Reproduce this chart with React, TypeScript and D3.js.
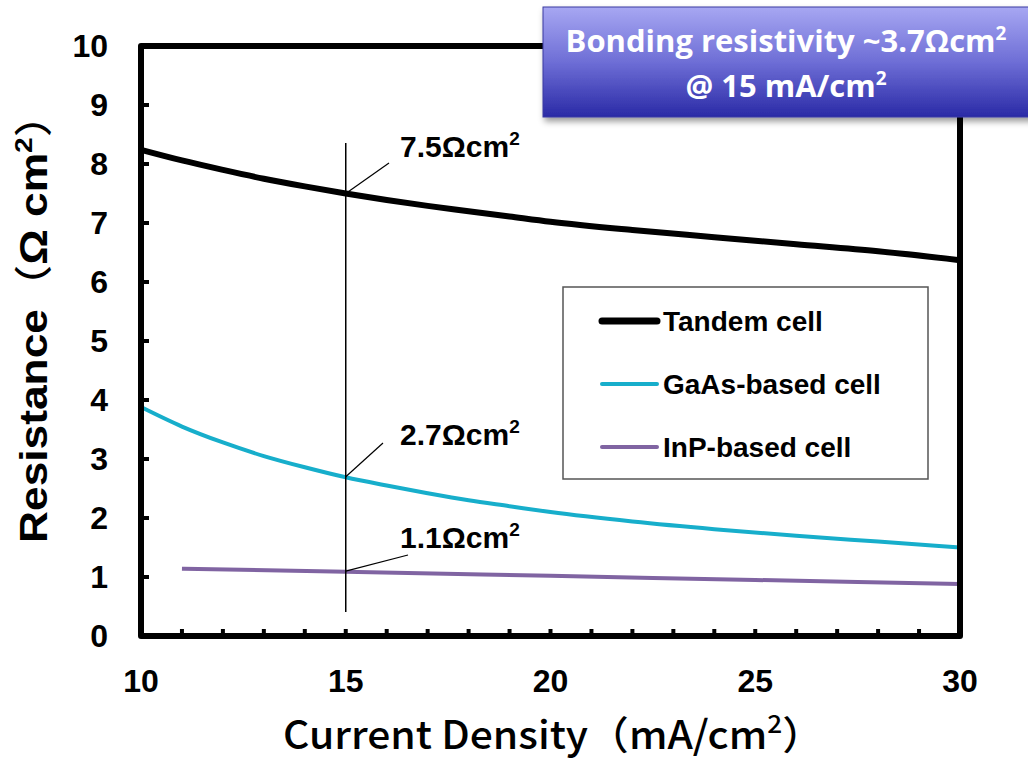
import React from "react";
import * as d3 from "d3";

const tandemX = [10, 11, 12, 13, 14, 15, 16, 17, 18, 19, 20, 22, 24, 26, 28, 30];
const tandemY = [8.24, 8.06, 7.9, 7.75, 7.62, 7.5, 7.39, 7.29, 7.2, 7.11, 7.02, 6.88, 6.76, 6.64, 6.52, 6.37];
const gaasX = [10, 11, 12, 13, 14, 15, 16, 17, 18, 19, 20, 22, 24, 26, 28, 30];
const gaasY = [3.88, 3.55, 3.28, 3.05, 2.86, 2.69, 2.55, 2.42, 2.3, 2.2, 2.1, 1.94, 1.81, 1.7, 1.6, 1.5];
const inpX = [11, 15, 20, 25, 30];
const inpY = [1.14, 1.09, 1.02, 0.95, 0.88];
const xTicks = [10, 15, 20, 25, 30];
const xMinorTicks = [11, 12, 13, 14, 16, 17, 18, 19, 21, 22, 23, 24, 26, 27, 28, 29];
const yTicks = [0, 1, 2, 3, 4, 5, 6, 7, 8, 9, 10];
const seriesNames = ["Tandem cell", "GaAs-based cell", "InP-based cell"];
const annotValues = ["7.5", "2.7", "1.1"];
const annotAt = 15;

export default function App() {
  const x = d3.scaleLinear().domain([10, 30]).range([141, 960]);
  const y = d3.scaleLinear().domain([0, 10]).range([636, 46]);
  const line = d3
    .line<[number, number]>()
    .x((d) => x(d[0]))
    .y((d) => y(d[1]))
    .curve(d3.curveMonotoneX);
  const series = [
    { name: seriesNames[0], pts: tandemX.map((v, i) => [v, tandemY[i]] as [number, number]), color: "#000000", w: 6 },
    { name: seriesNames[1], pts: gaasX.map((v, i) => [v, gaasY[i]] as [number, number]), color: "#17AECB", w: 4 },
    { name: seriesNames[2], pts: inpX.map((v, i) => [v, inpY[i]] as [number, number]), color: "#8064A2", w: 4 },
  ];
  const annotY = [7.5, 2.7, 1.1];
  const leaderEnds = [
    [389, 163],
    [383, 443],
    [408, 555],
  ];
  const labelBase = [157, 445, 548];
  const font = "Arial, 'Liberation Sans', sans-serif";
  const titleFont = "'Noto Sans CJK JP', 'Noto Sans', sans-serif";
  return (
    <svg width={1028} height={761} style={{ position: "absolute", left: 0, top: 0 }}>
      <defs>
        <linearGradient id="bg" x1="0" y1="0" x2="0" y2="1">
          <stop offset="0" stopColor="#A7A7F2" />
          <stop offset="0.5" stopColor="#6E6ED6" />
          <stop offset="1" stopColor="#2A2AA6" />
        </linearGradient>
        <filter id="sh" x="-10%" y="-10%" width="130%" height="140%">
          <feDropShadow dx="2" dy="4" stdDeviation="3" floodColor="#000" floodOpacity="0.4" />
        </filter>
      </defs>
      <rect x={0} y={0} width={1028} height={761} fill="#fff" />
      {xMinorTicks.concat(xTicks).map((t) => (
        <line key={"xt" + t} x1={x(t)} x2={x(t)} y1={y(0)} y2={y(0) - 7} stroke="#000" strokeWidth={4} />
      ))}
      {yTicks.map((t) => (
        <line key={"yt" + t} x1={x(10)} x2={x(10) + 8} y1={y(t)} y2={y(t)} stroke="#000" strokeWidth={4} />
      ))}
      {series.map((s) => (
        <path key={s.name} d={line(s.pts) || ""} fill="none" stroke={s.color} strokeWidth={s.w} />
      ))}
      <rect x={x(10)} y={y(10)} width={x(30) - x(10)} height={y(0) - y(10)} fill="none" stroke="#000" strokeWidth={6} strokeLinejoin="round" />
      <line x1={x(annotAt)} x2={x(annotAt)} y1={143} y2={612} stroke="#000" strokeWidth={1.5} />
      {annotValues.map((v, i) => (
        <g key={v}>
          <line x1={x(annotAt)} y1={y(annotY[i])} x2={leaderEnds[i][0]} y2={leaderEnds[i][1]} stroke="#000" strokeWidth={1.2} />
          <text x={400} y={labelBase[i]} fontFamily={font} fontWeight="bold" fontSize={30} fill="#000">
            {v}Ωcm
            <tspan fontSize={19} dy={-12}>2</tspan>
          </text>
        </g>
      ))}
      {yTicks.map((t) => (
        <text key={"yl" + t} x={108} y={y(t) + 11} textAnchor="end" fontFamily={font} fontWeight="bold" fontSize={32}>
          {t}
        </text>
      ))}
      {xTicks.map((t) => (
        <text key={"xl" + t} x={x(t)} y={692} textAnchor="middle" fontFamily={font} fontWeight="bold" fontSize={32}>
          {t}
        </text>
      ))}
      <text x={553} y={749} textAnchor="middle" fontFamily={titleFont} fontWeight={500} fontSize={39} textLength={540} lengthAdjust="spacingAndGlyphs">
        Current Density（mA/cm
        <tspan fontSize={25} dy={-16}>2</tspan>
        <tspan dy={16}>）</tspan>
      </text>
      <text transform="translate(47,318) rotate(-90)" textAnchor="middle" fontFamily={font} fontWeight="bold" fontSize={38} textLength={450} lengthAdjust="spacingAndGlyphs">
        Resistance
        <tspan fontFamily={titleFont} fontWeight={500}>（</tspan>Ω cm
        <tspan fontSize={24} dy={-15}>2</tspan>
        <tspan dy={15} fontFamily={titleFont} fontWeight={500}>）</tspan>
      </text>
      <rect x={563} y={287} width={365} height={192} fill="#fff" stroke="#555" strokeWidth={1.5} />
      {series.map((s, i) => (
        <g key={"lg" + s.name}>
          <line x1={602} x2={657} y1={321 + i * 63} y2={321 + i * 63} stroke={s.color} strokeWidth={s.w === 6 ? 7 : 4} strokeLinecap="round" />
          <text x={663} y={321 + i * 63 + 10} fontFamily={font} fontWeight="bold" fontSize={28}>
            {s.name}
          </text>
        </g>
      ))}
      <g filter="url(#sh)">
        <rect x={543} y={7} width={490} height={110} fill="url(#bg)" stroke="#3A3AA0" strokeWidth={1} />
      </g>
      <text x={786} y={52} textAnchor="middle" fontFamily="'Open Sans', Lato, sans-serif" fontWeight="bold" fontSize={31} fill="#fff">
        Bonding resistivity ~3.7Ωcm
        <tspan fontSize={19} dy={-12}>2</tspan>
      </text>
      <text x={786} y={97} textAnchor="middle" fontFamily="'Open Sans', Lato, sans-serif" fontWeight="bold" fontSize={31} fill="#fff">
        @ 15 mA/cm
        <tspan fontSize={19} dy={-12}>2</tspan>
      </text>
    </svg>
  );
}
